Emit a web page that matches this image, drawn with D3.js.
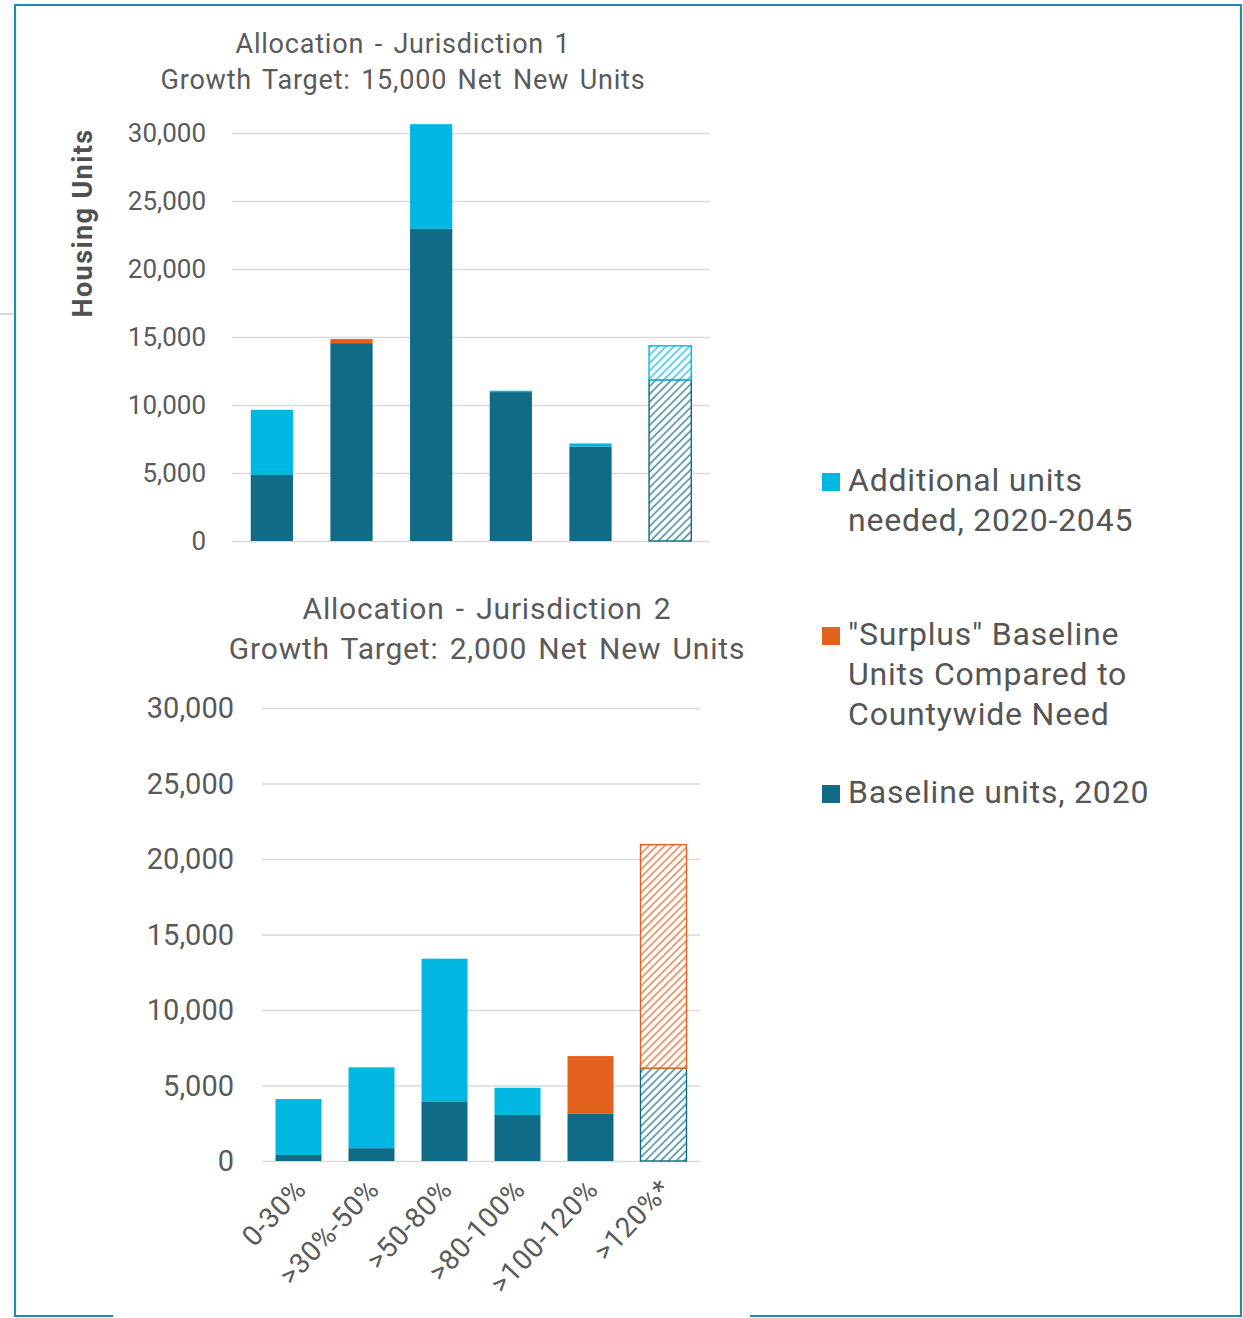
<!DOCTYPE html>
<html>
<head>
<meta charset="utf-8">
<script src="https://cdn.jsdelivr.net/npm/d3@7/dist/d3.min.js"></script>
<style>
  html, body { margin: 0; padding: 0; background: #ffffff; }
  svg { display: block; font-family: Roboto, "Open Sans", sans-serif; }
</style>
</head>
<body>
<svg id="chart" width="1243" height="1318"></svg>
<script>
// Income bands shared by both jurisdictions
const categories = ["0-30%", ">30%-50%", ">50-80%", ">80-100%", ">100-120%", ">120%*"];
const hatchedCategory = ">120%*";

// Jurisdiction 1 (growth target 15,000)
const j1Baseline   = [4850, 14550, 22950, 10950, 6950, 11850];
const j1Surplus    = [0, 300, 0, 0, 0, 0];
const j1Additional = [4800, 0, 7700, 100, 220, 2500];

// Jurisdiction 2 (growth target 2,000)
const j2Baseline   = [400, 850, 3950, 3050, 3150, 6150];
const j2Surplus    = [0, 0, 0, 0, 3800, 14800];
const j2Additional = [3700, 5350, 9450, 1800, 0, 0];

const yTicks = [0, 5000, 10000, 15000, 20000, 25000, 30000];

const seriesKeys = ["baseline", "surplus", "additional"];
const legendItems = [
  { key: "additional", lines: ["Additional units", "needed, 2020-2045"] },
  { key: "surplus", lines: ["\"Surplus\" Baseline", "Units Compared to", "Countywide Need"] },
  { key: "baseline", lines: ["Baseline units, 2020"] }
];

const colors = { baseline: "#0f6b86", surplus: "#e2611c", additional: "#00b7e2" };
const textGray = "#5a5a5a";
const gridGray = "#d9d9d9";

const svg = d3.select("#chart");
const defs = svg.append("defs");

// Diagonal hatch patterns for the >120% band
Object.entries(colors).forEach(([k, c]) => {
  const p = defs.append("pattern")
    .attr("id", "hatch-" + k)
    .attr("patternUnits", "userSpaceOnUse")
    .attr("width", 5.5).attr("height", 5.5)
    .attr("patternTransform", "rotate(45)");
  p.append("rect").attr("width", 5.5).attr("height", 5.5).attr("fill", "#ffffff");
  p.append("line").attr("x1", 1).attr("y1", 0).attr("x2", 1).attr("y2", 5.5)
    .attr("stroke", c).attr("stroke-width", 1.4).attr("stroke-opacity", 0.85);
});

// Frame
const frame = svg.append("g").attr("fill", "none").attr("stroke", "#1a8fb6").attr("stroke-width", 2.2);
frame.append("path").attr("d", "M113,1316 H15 V5 H1241 V1316 H750");
svg.append("line").attr("x1", 0).attr("x2", 14).attr("y1", 314).attr("y2", 314)
  .attr("stroke", "#c8c8c8").attr("stroke-width", 1.5);

function drawPanel(cfg) {
  const rows = categories.map((c, i) => ({
    category: c,
    baseline: cfg.baseline[i],
    surplus: cfg.surplus[i],
    additional: cfg.additional[i]
  }));
  const stacked = d3.stack().keys(seriesKeys)(rows);

  const x = d3.scaleBand().domain(categories)
    .range([cfg.x0, cfg.x1]).paddingInner(cfg.pad).paddingOuter(cfg.pad / 2);
  const y = d3.scaleLinear().domain([0, 30000]).range([cfg.yBottom, cfg.yTop]);

  const g = svg.append("g");

  // titles
  cfg.titles.forEach((t, i) => {
    g.append("text")
      .attr("x", cfg.titleX).attr("y", cfg.titleY + i * cfg.titleGap)
      .attr("text-anchor", "middle")
      .attr("font-size", cfg.titleSize)
      .attr("letter-spacing", "0.8px")
      .attr("word-spacing", "3px")
      .attr("fill", textGray)
      .text(t);
  });

  // grid lines
  const axis = d3.axisLeft(y).tickValues(yTicks)
    .tickSize(-(cfg.x1 - cfg.x0)).tickFormat("");
  const ag = g.append("g").attr("transform", `translate(${cfg.x0},0)`).call(axis);
  ag.select(".domain").remove();
  ag.selectAll(".tick line").attr("stroke", gridGray).attr("stroke-width", 1.6);

  // tick labels
  g.append("g").selectAll("text").data(yTicks).join("text")
    .attr("x", cfg.labelX).attr("y", d => y(d))
    .attr("dy", "0.36em")
    .attr("text-anchor", "end")
    .attr("font-size", cfg.tickSize)
    .attr("fill", textGray)
    .text(d => d3.format(",")(d));

  // bars
  stacked.forEach(layer => {
    const key = layer.key;
    g.append("g").selectAll("rect")
      .data(layer.filter(d => d[1] - d[0] > 0))
      .join("rect")
      .attr("x", d => x(d.data.category))
      .attr("width", x.bandwidth())
      .attr("y", d => y(d[1]))
      .attr("height", d => y(d[0]) - y(d[1]))
      .attr("fill", d => d.data.category === hatchedCategory ? `url(#hatch-${key})` : colors[key])
      .attr("stroke", d => d.data.category === hatchedCategory ? colors[key] : "none")
      .attr("stroke-width", 1.4);
  });

  return x;
}

drawPanel({
  baseline: j1Baseline, surplus: j1Surplus, additional: j1Additional,
  x0: 232, x1: 710, pad: 0.47, yTop: 133, yBottom: 541,
  labelX: 206, tickSize: 26,
  titles: ["Allocation - Jurisdiction 1", "Growth Target: 15,000 Net New Units"],
  titleX: 403, titleY: 53, titleGap: 36, titleSize: 27
});

const xBottom = drawPanel({
  baseline: j2Baseline, surplus: j2Surplus, additional: j2Additional,
  x0: 262, x1: 700, pad: 0.37, yTop: 708, yBottom: 1161,
  labelX: 234, tickSize: 29,
  titles: ["Allocation - Jurisdiction 2", "Growth Target: 2,000 Net New Units"],
  titleX: 487, titleY: 619, titleGap: 40, titleSize: 30
});

// category labels under the lower panel
svg.append("g").selectAll("text").data(categories).join("text")
  .attr("transform", d => `translate(${xBottom(d) + xBottom.bandwidth() / 2 + 2},${1184}) rotate(-47)`)
  .attr("text-anchor", "end")
  .attr("dy", "0.35em")
  .attr("font-size", 28)
  .attr("letter-spacing", "0.6px")
  .attr("fill", textGray)
  .text(d => d);

// y axis title
svg.append("text")
  .attr("transform", "translate(92,223) rotate(-90)")
  .attr("text-anchor", "middle")
  .attr("font-size", 27)
  .attr("font-weight", "bold")
  .attr("letter-spacing", "1.4px")
  .attr("fill", "#505050")
  .text("Housing Units");

// legend
const legendTop = { additional: 491, surplus: 645, baseline: 803 };
const lg = svg.append("g");
legendItems.forEach(item => {
  const by = legendTop[item.key];
  lg.append("rect").attr("x", 822).attr("y", by - 18).attr("width", 18).attr("height", 18)
    .attr("fill", colors[item.key]);
  item.lines.forEach((ln, i) => {
    lg.append("text").attr("x", 848).attr("y", by + i * 40)
      .attr("font-size", 32).attr("letter-spacing", "0.8px")
      .attr("fill", "#555555").text(ln);
  });
});
</script>
</body>
</html>
